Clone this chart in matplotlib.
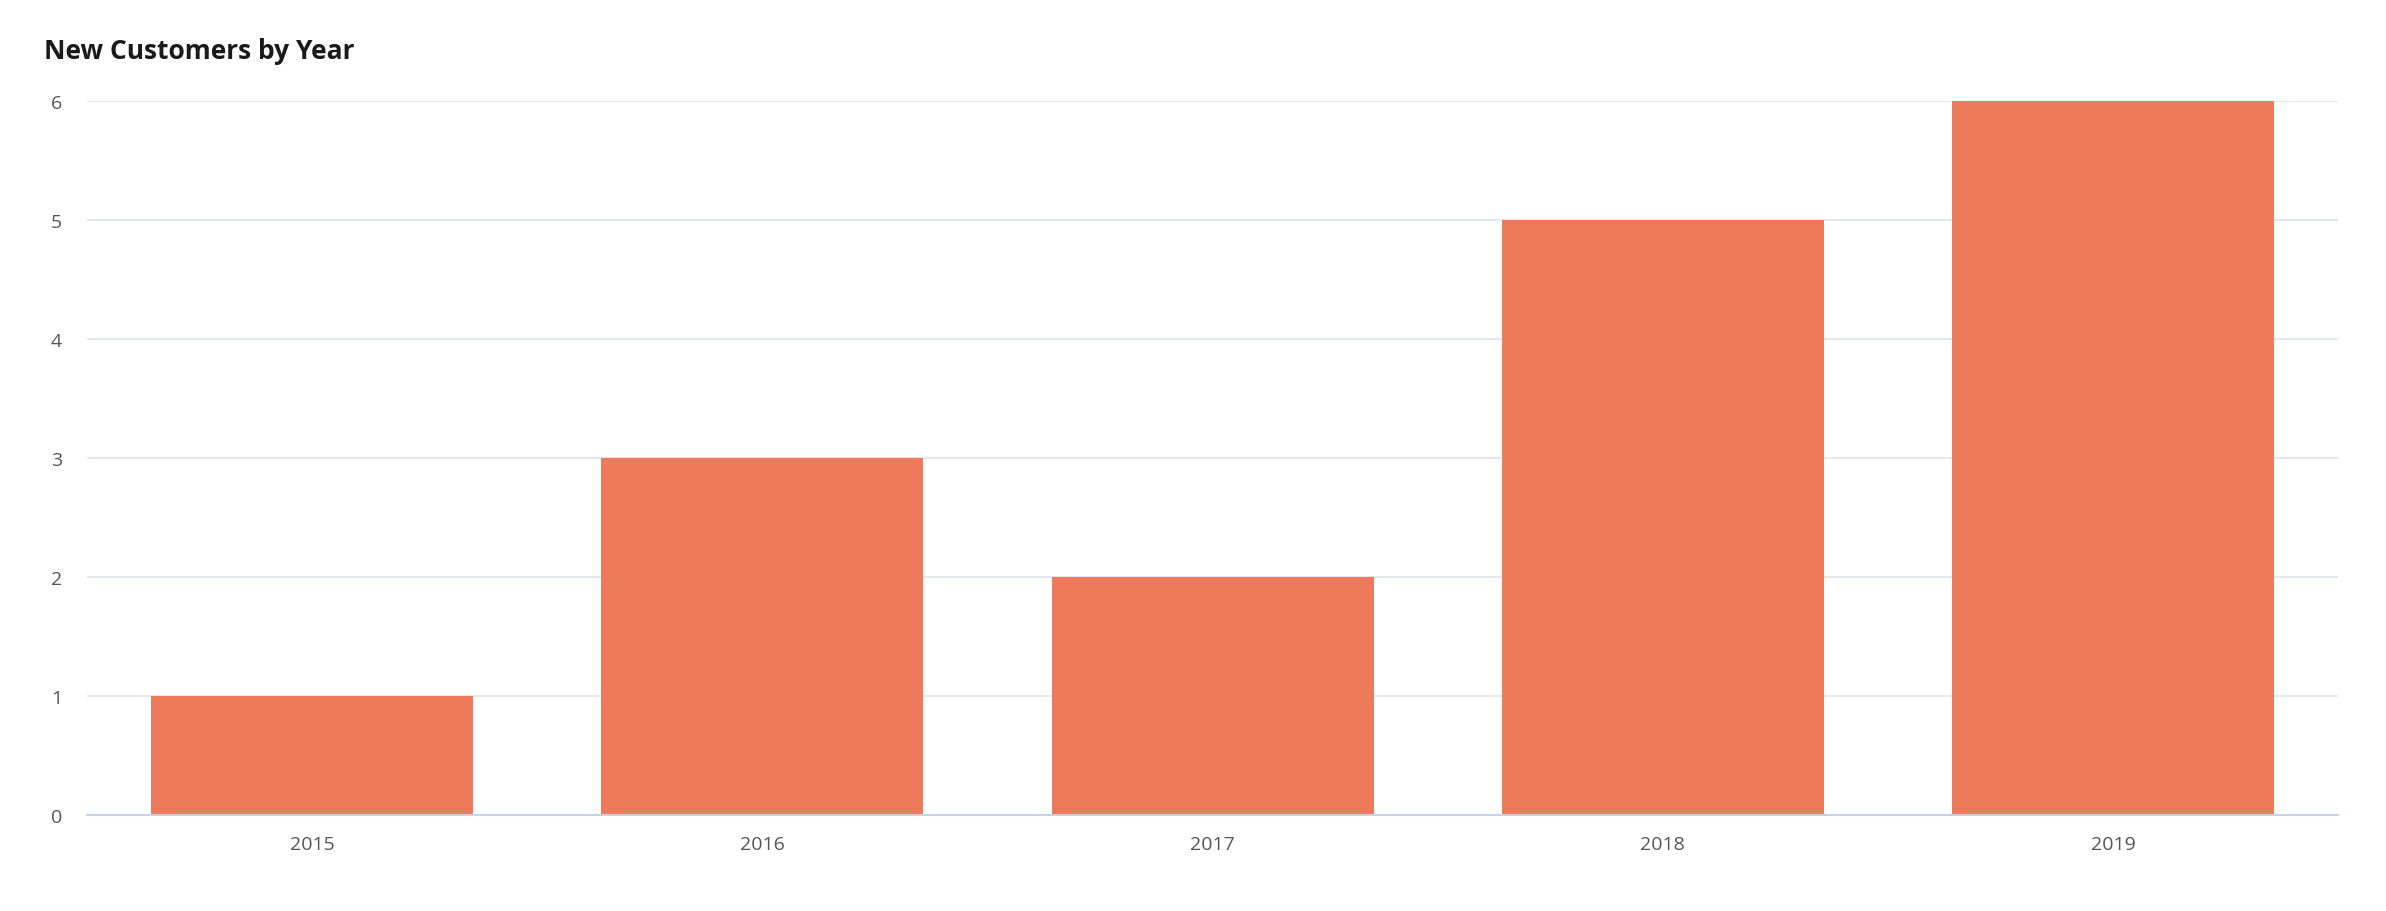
import matplotlib.pyplot as plt

years = ['2015', '2016', '2017', '2018', '2019']
customers = [1, 3, 2, 5, 6]

plt.rcParams['font.family'] = ['Open Sans', 'DejaVu Sans']

fig = plt.figure(figsize=(23.86, 9.12), dpi=100)
ax = fig.add_axes([0.0364, 0.105, 0.9436, 0.783])

ax.bar(range(len(years)), customers, width=0.715, color='#ee7a5c', zorder=2)
ax.set_xlim(-0.5, len(years) - 0.5)
ax.set_ylim(0, 6)
ax.set_xticks(range(len(years)), years)
ax.set_yticks(range(7))
ax.grid(axis='y', color='#dde2ea', linewidth=1.2, zorder=0)
for side in ('top', 'right', 'left'):
    ax.spines[side].set_visible(False)
ax.spines['bottom'].set_color('#c5d3e3')
ax.spines['bottom'].set_linewidth(1.5)
ax.tick_params(axis='both', length=0, labelsize=14, colors='#555555')
ax.tick_params(axis='x', pad=14)
ax.tick_params(axis='y', pad=26)
for lbl in ax.get_yticklabels():
    lbl.set_horizontalalignment('left')

fig.text(0.0185, 0.944, 'New Customers by Year', fontsize=19, fontweight='bold',
         color='#1a1a1a', va='center')

fig.savefig('out.png', dpi=100, facecolor='white')
